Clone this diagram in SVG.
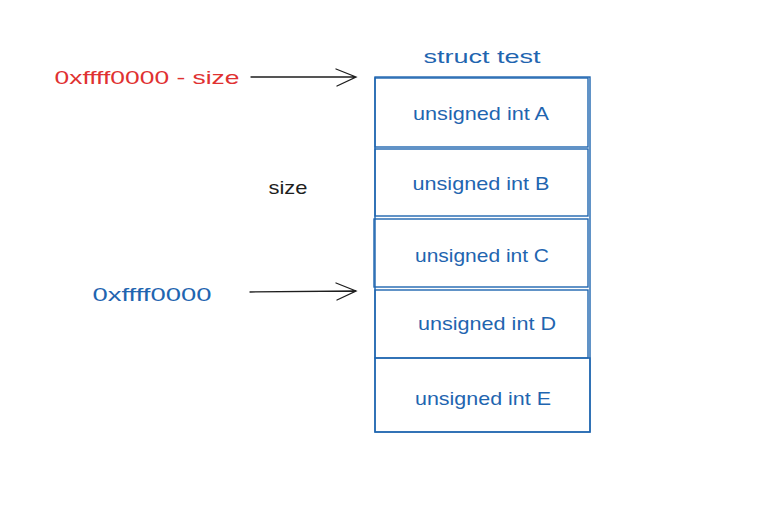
<svg xmlns="http://www.w3.org/2000/svg" width="767" height="518" viewBox="0 0 767 518">
<style>
.box{fill:none;stroke:#1f65b0;stroke-width:1.4}
.t{font-family:"Liberation Sans",Arial,sans-serif;font-size:19px;text-anchor:middle;dominant-baseline:central}
.blue{fill:#1f65b0}
.red{fill:#e03131}
.blk{fill:#1e1e1e}
.conn{fill:none;stroke:#1e1e1e;stroke-width:1.3;stroke-linecap:round}
</style>
<rect width="767" height="518" fill="#ffffff"/>
<text class="t blue" x="482" y="56" textLength="117" lengthAdjust="spacingAndGlyphs">struct test</text>
<rect class="box" x="375" y="77" width="215" height="355"/>
<g id="nodeA"><rect class="box" x="375" y="78" width="213" height="69"/><text class="t blue" x="481" y="113" textLength="136" lengthAdjust="spacingAndGlyphs">unsigned int A</text></g>
<g id="nodeB"><rect class="box" x="375" y="149" width="213" height="67"/><text class="t blue" x="481" y="183" textLength="137" lengthAdjust="spacingAndGlyphs">unsigned int B</text></g>
<g id="nodeC"><rect class="box" x="374" y="219" width="214" height="68"/><text class="t blue" x="482" y="255" textLength="134" lengthAdjust="spacingAndGlyphs">unsigned int C</text></g>
<g id="nodeD"><rect class="box" x="375" y="290" width="213" height="68"/><text class="t blue" x="487" y="323" textLength="138" lengthAdjust="spacingAndGlyphs">unsigned int D</text></g>
<g id="nodeE"><rect class="box" x="375" y="358" width="215" height="74"/><text class="t blue" x="483" y="398" textLength="136" lengthAdjust="spacingAndGlyphs">unsigned int E</text></g>
<g id="label1"><text class="t red" x="147" y="77" textLength="185" lengthAdjust="spacingAndGlyphs">0xffff0000 - size</text></g>
<g id="label2"><text class="t blue" x="152" y="294" textLength="119" lengthAdjust="spacingAndGlyphs">0xffff0000</text></g>
<g id="label3"><text class="t blk" x="288" y="187" textLength="39" lengthAdjust="spacingAndGlyphs">size</text></g>
<g id="connectors">
<path class="conn" d="M251 77 L356 77 M336 69 L356 77 L337 86"/>
<path class="conn" d="M250 292 L356 291 M336 283 L356 291 L337 300"/>
</g>
</svg>
